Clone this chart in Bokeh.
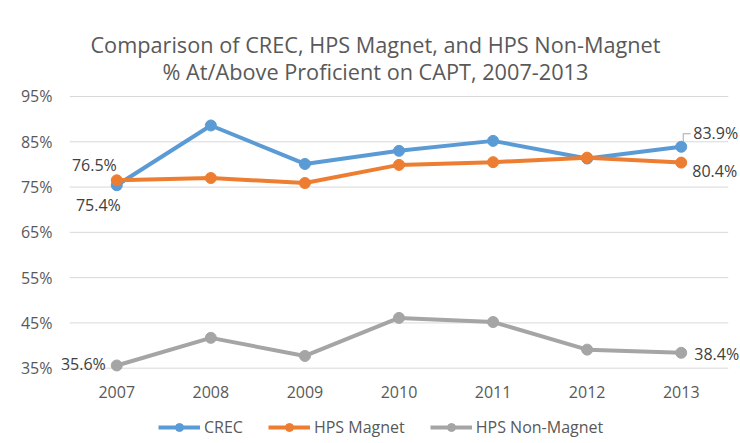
from bokeh.plotting import figure
from bokeh.models import Legend, LegendItem, FixedTicker, Range1d, FactorRange
from bokeh.core.properties import value
from bokeh.embed import file_html
from bokeh.resources import INLINE

years = ["2007", "2008", "2009", "2010", "2011", "2012", "2013"]
crec = [75.4, 88.6, 80.1, 83.0, 85.2, 81.3, 83.9]
magnet = [76.5, 77.0, 75.9, 79.9, 80.5, 81.5, 80.4]
nonmagnet = [35.6, 41.7, 37.7, 46.1, 45.2, 39.1, 38.4]
y_ticks = [35, 45, 55, 65, 75, 85, 95]
y_tick_labels = ["35%", "45%", "55%", "65%", "75%", "85%", "95%"]
series_names = ["CREC", "HPS Magnet", "HPS Non-Magnet"]
title_lines = ["Comparison of CREC, HPS Magnet, and HPS Non-Magnet",
               "% At/Above Proficient on CAPT, 2007-2013"]

FONT = "Open Sans"
TXT = "#595959"
LBL = "#404040"
colors = ["#5B9BD5", "#ED7D31", "#A5A5A5"]
PX = 4.528  # pixels per percentage point on the value axis

p = figure(title=None, x_range=FactorRange(*years, range_padding=0.13, range_padding_units="absolute"),
           y_range=Range1d(18.37, 116.2), width=740, height=443,
           output_backend="svg", toolbar_location=None, x_axis_location=None,
           min_border_left=57, min_border_right=0, min_border_top=0, min_border_bottom=0,
           background_fill_color="white", border_fill_color="white")
p.outline_line_color = None
p.xgrid.visible = False
p.ygrid.visible = False

# y axis
p.yaxis.ticker = FixedTicker(ticks=y_ticks)
p.yaxis.major_label_overrides = {t: l for t, l in zip(y_ticks, y_tick_labels)}
p.yaxis.axis_line_color = None
p.yaxis.major_tick_line_color = None
p.yaxis.minor_tick_line_color = None
p.yaxis.major_tick_out = 0
p.yaxis.major_tick_in = 0
p.yaxis.minor_tick_out = 0
p.yaxis.major_label_text_font = FONT
p.yaxis.major_label_text_font_size = "16px"
p.yaxis.major_label_text_color = TXT
p.yaxis.major_label_standoff = 5

# horizontal gridlines across the category band
n = len(years)
p.segment(x0=[0] * len(y_ticks), x1=[n] * len(y_ticks), y0=y_ticks, y1=y_ticks,
          line_color="#D9D9D9", line_width=1)

# category labels
p.text(x=years, y=[y_ticks[0] - 24.3 / PX] * n, text=years, text_align="center",
       text_baseline="middle", text_font=value(FONT), text_font_size="16px", text_color=TXT)

# title
p.text(x=[3.25, 3.25], y=[95 + 52 / PX, 95 + 25 / PX], text=title_lines, text_align="center",
       text_baseline="middle", text_font=value(FONT), text_font_size="21.7px", text_color=TXT)

items = []
for name, vals, col in zip(series_names, [crec, magnet, nonmagnet], colors):
    l = p.line(years, vals, line_color=col, line_width=4)
    s = p.scatter(years, vals, size=11, fill_color=col, line_color=col)
    items.append(LegendItem(label=name, renderers=[l, s]))

legend = Legend(items=items, orientation="horizontal", location=(101, 5),
                glyph_width=42, glyph_height=20, label_height=20, label_standoff=4, spacing=25,
                padding=0, margin=0, border_line_color=None, background_fill_alpha=0,
                label_text_font=FONT, label_text_font_size="16px", label_text_color=TXT)
p.add_layout(legend)

# leader line for the last CREC label
xl = n - 0.5
p.line([xl + 0.021, xl + 0.021, xl + 0.100], [crec[-1] + 1.1, crec[-1] + 2.87, crec[-1] + 2.87],
       line_color="#A6A6A6", line_width=1)

def lab(x, y, align, dx, up_px):
    p.text(x=[x], y=[y + up_px / PX], text=[f"{y:.1f}%"], text_align=align,
           text_baseline="middle", x_offset=dx, text_font=value(FONT),
           text_font_size="16px", text_color=LBL)

lab(years[0], magnet[0], "right", 0, 15)
lab(years[0], crec[0], "right", 4, -20)
lab(years[0], nonmagnet[0], "right", -11, 1)
lab(years[-1], crec[-1], "left", 12, 13.6)
lab(years[-1], magnet[-1], "left", 11, -8.6)
lab(years[-1], nonmagnet[-1], "left", 13, -1.7)

open("out.html", "w").write(file_html(p, INLINE))
